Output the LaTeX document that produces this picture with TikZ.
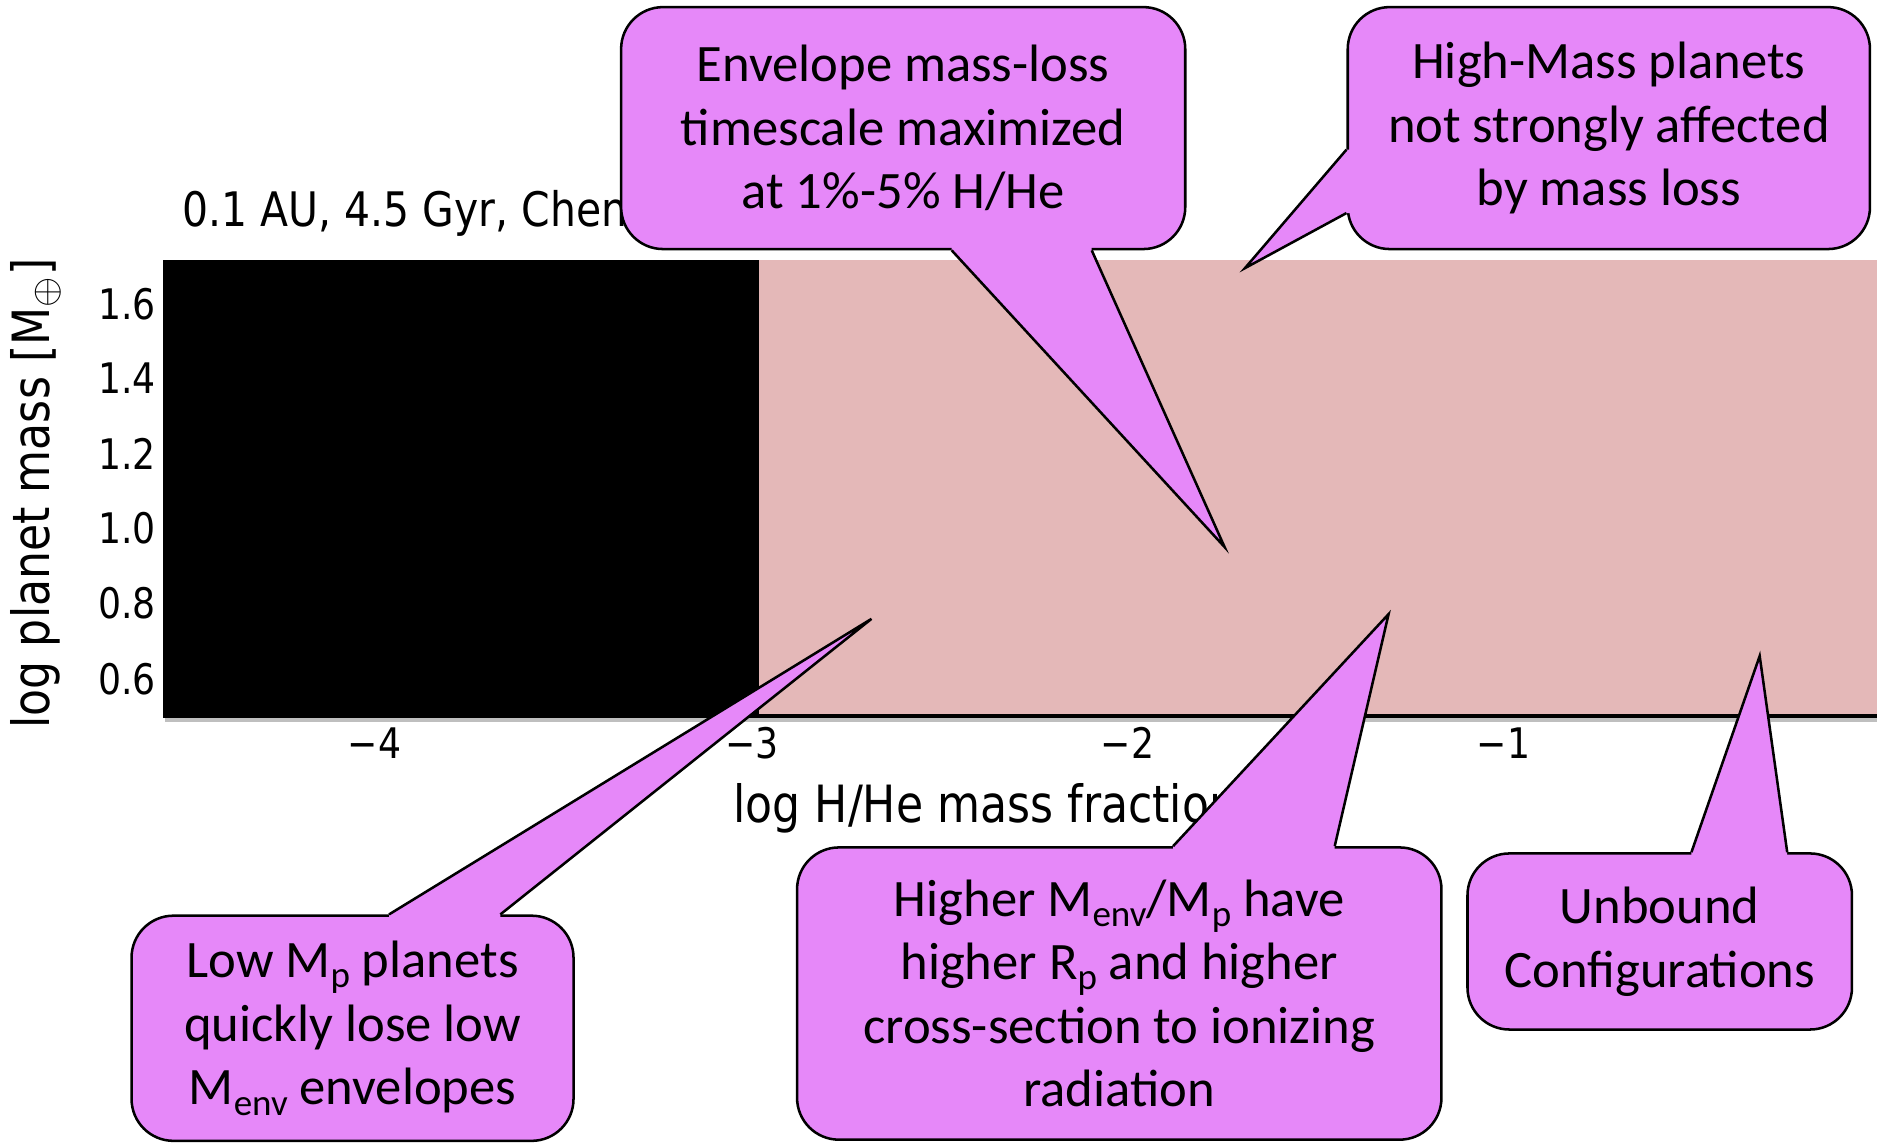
\documentclass[tikz,border=0pt]{standalone}
\usepackage{fontspec}
\setmainfont{Carlito}
\newfontfamily\plotfont{DejaVu Sans}[FakeStretch=0.86]
\usetikzlibrary{calc}
\definecolor{notefill}{HTML}{E688F9}
\definecolor{regionpink}{HTML}{E4B8B8}
\newcommand{\lowsub}[1]{\raisebox{-0.4ex}{\fontsize{8.8}{10}\selectfont #1}}
\tikzset{
  note/.style={draw,fill=notefill,rounded corners=0.35cm,line width=0.6pt,
               align=center,inner sep=0pt,font=\fontsize{12.5}{15.1}\selectfont},
  ticklbl/.style={font=\plotfont\fontsize{10}{12}\selectfont,inner sep=0pt},
  axlbl/.style={font=\plotfont\fontsize{12.2}{14}\selectfont,inner sep=0pt},
  every picture/.style={line join=round}}
% tail of a callout: base point, tip, base point, shift into the box
\newcommand{\calltail}[4]{%
  \fill[notefill] (#1) -- (#2) -- (#3) -- ($(#3)+#4$) -- ($(#1)+#4$) -- cycle;
  \draw[line width=0.6pt,line join=miter] (#1) -- (#2) -- (#3);}

\begin{document}
\begin{tikzpicture}[x=0.01cm,y=-0.01cm]
  \useasboundingbox (0,0) rectangle (1568,955);
  % the plot
  \fill[black] (136,217) rectangle (634,598);
  \fill[regionpink] (634,217) rectangle (1568,598);
  \draw[black!25,line width=1pt] (138,601) -- (1568,601);
  \draw[line width=0.8pt] (136,598) -- (1568,598);
  \node[axlbl,anchor=west,font=\plotfont\fontsize{11.3}{13}\selectfont] (title) at (152,178)
    {0.1 AU, 4.5 Gyr, Chen};
  \foreach \v/\y in {1.6/254,1.4/316,1.2/379,1.0/441,0.8/504,0.6/567}
    \node[ticklbl,anchor=east] (yt\v) at (131,\y) {\v};
  \foreach \v/\x in {4/313,3/628,2/942,1/1256}
    \node[ticklbl] (xt\v) at (\x,621) {−\v};
  \node[axlbl,rotate=90] (ylab) at (30,412) {log planet mass [M$_{\oplus}$]};
  \node[axlbl,anchor=west] (xlab) at (612,675) {log H/He mass fraction};

  % callouts
  \node[note,minimum width=4.71cm,minimum height=2.02cm] (env) at (754.5,107)
    {Envelope mass-loss\\timescale maximized\\at 1\%-5\% H/He};
  \node[note,minimum width=4.36cm,minimum height=2.02cm] (high) at (1344,107)
    {High-Mass planets\\not strongly affected\\by mass loss};
  \node[note,minimum width=3.69cm,minimum height=1.88cm] (low) at (294.5,859)
    {Low M\lowsub{p} planets\\quickly lose low\\M\lowsub{env} envelopes};
  \node[note,minimum width=5.38cm,minimum height=2.44cm] (higher) at (935,830)
    {Higher M\lowsub{env}/M\lowsub{p} have\\higher R\lowsub{p} and higher\\cross-section to ionizing\\radiation};
  \node[note,minimum width=3.21cm,minimum height=1.47cm] (unbound) at (1386.5,786.5)
    {Unbound\\Configurations};

  \coordinate (envtip) at (1023,457);
  \coordinate (envb1) at (795,0 |- env.south);
  \coordinate (envb2) at (912,0 |- env.south);
  \coordinate (hightip) at (1040,224);
  \coordinate (highb1) at (high.west |- 0,125);
  \coordinate (highb2) at (high.west |- 0,178);
  \coordinate (lowtip) at (728,517);
  \coordinate (lowb1) at (325,0 |- low.north);
  \coordinate (lowb2) at (418,0 |- low.north);
  \coordinate (highertip) at (1160,513);
  \coordinate (higherb1) at (980,0 |- higher.north);
  \coordinate (higherb2) at (1115,0 |- higher.north);
  \coordinate (unboundtip) at (1470,548);
  \coordinate (unboundb1) at (1413,0 |- unbound.north);
  \coordinate (unboundb2) at (1493,0 |- unbound.north);

  \calltail{envb1}{envtip}{envb2}{(0,-3)}
  \calltail{highb1}{hightip}{highb2}{(3,0)}
  \calltail{lowb1}{lowtip}{lowb2}{(0,3)}
  \calltail{higherb1}{highertip}{higherb2}{(0,3)}
  \calltail{unboundb1}{unboundtip}{unboundb2}{(0,3)}
\end{tikzpicture}
\end{document}
